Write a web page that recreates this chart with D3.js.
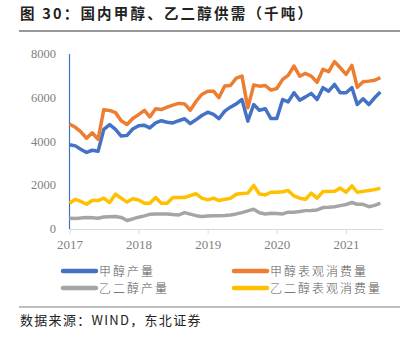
<!DOCTYPE html>
<html>
<head>
<meta charset="utf-8">
<script src="https://cdn.jsdelivr.net/npm/d3@7"></script>
<style>
body { margin: 0; background: #fff; }
svg { display: block; }
</style>
</head>
<body>
<svg id="chart" width="411" height="341"></svg>
<script>
// monthly, Jan 2017 .. Jul 2021
var methanolProd = [3850, 3800, 3650, 3500, 3600, 3550, 4550, 4770, 4550, 4250, 4280, 4570, 4720, 4740, 4620, 4850, 4950, 4880, 4850, 4950, 5040, 4820, 5000, 5190, 5340, 5240, 5040, 5390, 5570, 5720, 5920, 4930, 5690, 5430, 5500, 5050, 5050, 5920, 5810, 6230, 5890, 6040, 6200, 5920, 6460, 6300, 6610, 6230, 6230, 6460, 5690, 5950, 5690, 6000, 6260];
var methanolCons = [4800, 4650, 4450, 4150, 4400, 4100, 5450, 5420, 5320, 4950, 4780, 5050, 5230, 5420, 5120, 5500, 5460, 5570, 5660, 5740, 5720, 5430, 5840, 6150, 6300, 6300, 6000, 6540, 6560, 6900, 6990, 5540, 6580, 6530, 6560, 6350, 6420, 6840, 7020, 7450, 6990, 7110, 6990, 6710, 7300, 7190, 7650, 7370, 7070, 7480, 6480, 6730, 6760, 6800, 6920];
var egProd = [490, 480, 500, 530, 510, 490, 550, 560, 570, 530, 390, 460, 540, 600, 670, 690, 690, 690, 660, 640, 750, 680, 610, 570, 590, 610, 610, 620, 640, 690, 750, 830, 900, 740, 690, 720, 710, 690, 770, 770, 800, 840, 850, 870, 980, 990, 1020, 1070, 1120, 1210, 1130, 1130, 1020, 1080, 1180];
var egCons = [1180, 1360, 1260, 1130, 1300, 1300, 1410, 1210, 1590, 1410, 1230, 1380, 1330, 1180, 1180, 1440, 1180, 1180, 1440, 1440, 1440, 1530, 1610, 1410, 1330, 1410, 1300, 1360, 1400, 1590, 1620, 1640, 1990, 1600, 1560, 1680, 1680, 1700, 1760, 1510, 1410, 1360, 1640, 1410, 1710, 1710, 1720, 1870, 1680, 1970, 1680, 1720, 1760, 1800, 1870];
var yTicks = [0, 2000, 4000, 6000, 8000];
var xYears = [2017, 2018, 2019, 2020, 2021];
var seriesNames = ["甲醇产量", "甲醇表观消费量", "乙二醇产量", "乙二醇表观消费量"];
var seriesColors = ["#4472C4", "#ED7D31", "#A5A5A5", "#FFC000"];

var svg = d3.select("#chart");
var cjk = "'Noto Sans CJK SC', sans-serif";
var serif = "'Liberation Serif', 'DejaVu Serif', serif";

var dates = methanolProd.map(function (d, i) { return new Date(2017, i, 1); });

var x = d3.scaleTime().domain([new Date(2017, 0, 1), new Date(2021, 6, 15)]).range([69.5, 383]);
var y = d3.scaleLinear().domain([0, 8000]).range([229, 54]);

// title
svg.append("text").attr("x", 20).attr("y", 19).attr("font-family", cjk).attr("font-weight", "bold")
	.attr("font-size", 14.5).attr("letter-spacing", 2.2).attr("fill", "#222").text("图 30：国内甲醇、乙二醇供需（千吨）");
svg.append("line").attr("x1", 19).attr("x2", 400).attr("y1", 31).attr("y2", 31).attr("stroke", "#333").attr("stroke-width", 1);

// y axis labels
svg.append("g").selectAll("text").data(yTicks).join("text")
	.attr("x", 56).attr("y", function (d) { return y(d) + 4; })
	.attr("text-anchor", "end").attr("font-family", serif).attr("font-size", 12.5).attr("fill", "#7f7f7f")
	.text(function (d) { return d; });

// x axis
var xAxis = d3.axisBottom(x).tickValues(xYears.map(function (yr) { return new Date(yr, 0, 1); }))
	.tickSize(5).tickFormat(d3.timeFormat("%Y"));
var gx = svg.append("g").attr("transform", "translate(0,229)").call(xAxis);
gx.select(".domain").attr("stroke", "#d9d9d9").attr("d", "M69.5,0.5H383");
gx.selectAll(".tick line").attr("stroke", "#d9d9d9");
gx.selectAll(".tick text").attr("font-family", serif).attr("font-size", 13).attr("fill", "#7f7f7f").attr("dy", "0.95em");

// y axis line
svg.append("line").attr("x1", 69.5).attr("x2", 69.5).attr("y1", 54).attr("y2", 229).attr("stroke", "#4472C4").attr("stroke-width", 1.2);

// series
var allSeries = [methanolProd, methanolCons, egProd, egCons];
var line = d3.line().x(function (d, i) { return x(dates[i]); }).y(function (d) { return y(d); });
var drawOrder = [2, 3, 0, 1];
drawOrder.forEach(function (k) {
	svg.append("path").datum(allSeries[k]).attr("d", line).attr("fill", "none")
		.attr("stroke", seriesColors[k]).attr("stroke-width", 3.5).attr("stroke-linejoin", "round");
});

// legend
var legendPos = [[63, 271], [234, 271], [63, 288], [234, 288]];
seriesNames.forEach(function (name, k) {
	var p = legendPos[k];
	svg.append("line").attr("x1", p[0]).attr("x2", p[0] + 33).attr("y1", p[1]).attr("y2", p[1])
		.attr("stroke", seriesColors[k]).attr("stroke-width", 4.5).attr("stroke-linecap", "round");
	svg.append("text").attr("x", p[0] + 36).attr("y", p[1] + 4.5).attr("font-family", cjk).attr("font-weight", 300)
		.attr("font-size", 12).attr("letter-spacing", 2).attr("fill", "#595959").text(name);
});

// source
svg.append("line").attr("x1", 19).attr("x2", 400).attr("y1", 307).attr("y2", 307).attr("stroke", "#7f7f7f").attr("stroke-width", 1.2);
svg.append("text").attr("x", 20).attr("y", 325).attr("font-family", cjk).attr("font-size", 13).attr("letter-spacing", 1.3).attr("fill", "#222")
	.text("数据来源：WIND，东北证券");
</script>
</body>
</html>
